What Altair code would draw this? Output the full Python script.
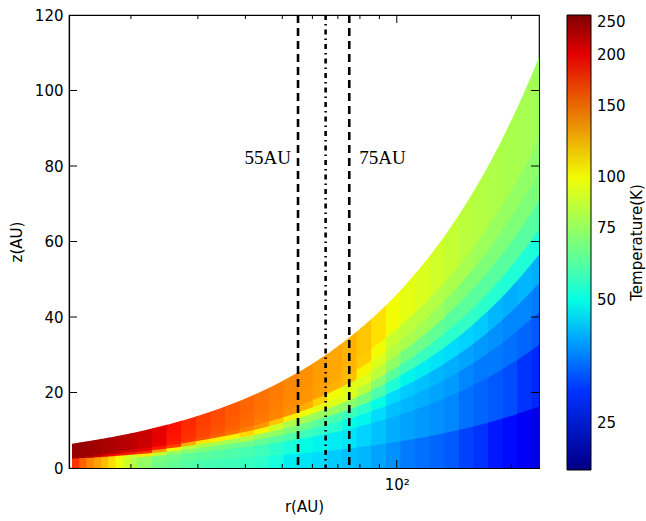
import altair as alt
import numpy as np
import pandas as pd

# ---------------- data ----------------
# radial cell edges (AU)
r_edges = [14.0, 14.63, 15.29, 15.98, 16.7, 17.45, 18.23, 19.05, 19.91, 20.8,
           22.72, 24.83, 27.12, 29.63, 32.37, 35.37, 38.64, 42.21, 46.12, 50.38,
           55.04, 60.13, 65.7, 71.77, 78.41, 85.67, 93.59, 102.25, 111.7, 122.0,
           133.3, 145.7, 159.1, 173.8, 189.9, 207.5, 226.7, 236.5]
# vertical layers as fraction of the disk surface height
layer_f = [0.0, 0.15, 0.3, 0.38, 0.45, 0.52, 0.58, 0.65, 0.72, 0.8, 1.0]
# disk surface: z_top / r
disk_aspect = 0.46
# temperature (K) of every cell, one list per radial column, bottom -> top
temp_by_column = [
    [175, 175, 175, 234, 238, 238, 238, 238, 238, 238],
    [152, 152, 152, 230, 236, 236, 236, 236, 236, 236],
    [138, 138, 138, 225, 234, 234, 234, 234, 234, 234],
    [128, 128, 128, 212, 229, 231, 231, 231, 231, 231],
    [118, 118, 120, 200, 224, 228, 228, 228, 228, 228],
    [108, 108, 110, 195, 218, 226, 226, 226, 226, 226],
    [99, 99, 102, 192, 212, 223, 223, 223, 223, 223],
    [90, 90, 95, 188, 206, 220, 220, 220, 220, 220],
    [82, 82, 90, 184, 202, 217, 217, 217, 217, 217],
    [74, 75, 105, 175, 198, 208, 210, 211, 212, 212],
    [67, 69, 88, 130, 185, 196, 198, 199, 200, 200],
    [64, 66, 76, 100, 168, 184, 187, 188, 189, 190],
    [61, 63, 72, 85, 125, 170, 175, 176, 177, 178],
    [59, 62, 70, 80, 106, 160, 165, 166, 167, 168],
    [58, 61, 68, 79, 104, 152, 158, 160, 161, 162],
    [57, 60, 66, 78, 102, 146, 152, 154, 155, 156],
    [56, 59, 66, 82, 110, 140, 147, 149, 150, 151],
    [54, 57, 64, 76, 102, 132, 142, 144, 145, 146],
    [51, 54, 62, 74, 90, 116, 138, 140, 141, 142],
    [48, 51, 60, 70, 80, 104, 133, 136, 137, 138],
    [47, 50, 57, 66, 78, 98, 124, 132, 133, 134],
    [46, 49, 55, 62, 76, 96, 112, 128, 129, 130],
    [44, 48, 53, 59, 75, 95, 100, 122, 125, 126],
    [43, 47, 50, 57, 73, 94, 95, 118, 121, 122],
    [42, 45, 49, 54, 68, 84, 94, 102, 114, 116],
    [40, 43, 46, 50, 60, 72, 85, 94, 100, 108],
    [38, 41, 43, 46, 52, 62, 74, 83, 88, 100],
    [36, 40, 42, 44, 49, 58, 68, 80, 85, 96],
    [35, 39, 41, 43, 48, 56, 66, 78, 84, 93],
    [34, 38, 40, 42, 47, 55, 64, 76, 82, 90],
    [33, 37, 39, 41, 46, 54, 62, 72, 80, 87],
    [31, 35, 37, 40, 45, 55, 63, 70, 79, 84],
    [30, 34, 36, 39, 44, 54, 62, 70, 77, 83],
    [28, 33, 36, 38, 42, 53, 62, 70, 76, 81],
    [27, 32, 35, 37, 41, 52, 62, 70, 75, 80],
    [25, 30, 34, 37, 42, 52, 62, 70, 74, 79],
    [24, 29, 33, 36, 41, 51, 61, 69, 73, 78],
]
marker_r = [55, 75]
marker_text = ["55AU", "75AU"]
center_r = [65]
x_minor_ticks = [20, 30, 40, 50, 60, 70, 80, 90, 200]
x_major_ticks = [100]
y_ticks = [0, 20, 40, 60, 80, 100, 120]
cbar_ticks = [25, 50, 75, 100, 150, 200, 250]
t_min, t_max = 19.2, 250.0

# ---------------- build table ----------------
# cells overlap their right / upper neighbour very slightly so that
# anti-aliasing does not leave hairline seams between them
n_col = len(r_edges) - 1
n_lay = len(layer_f) - 1
rows = []
for i in range(n_col):
    for j in range(n_lay):
        for k, e in enumerate((i, i + 1)):
            r = r_edges[e]
            if k == 1 and i < n_col - 1:
                r = r * 1.006
            top = disk_aspect * r
            z_hi = layer_f[j + 1] * top
            if j < n_lay - 1:
                z_hi += 0.35
            rows.append({"cell": f"{i:02d}_{j:02d}", "r": r,
                         "z": layer_f[j] * top, "z2": z_hi,
                         "T": temp_by_column[i][j]})
cells = pd.DataFrame(rows)

# jet colormap (matplotlib definition) on a log temperature scale
def jet(t):
    rr = np.interp(t, [0, 0.35, 0.66, 0.89, 1], [0, 0, 1, 1, 0.5])
    gg = np.interp(t, [0, 0.125, 0.375, 0.64, 0.91, 1], [0, 0, 1, 1, 0, 0])
    bb = np.interp(t, [0, 0.11, 0.34, 0.65, 1], [0.5, 1, 1, 0, 0])
    return "#%02x%02x%02x" % (int(round(rr * 255)), int(round(gg * 255)), int(round(bb * 255)))

ts = sorted(set(np.round(np.linspace(0, 1, 41), 4).tolist() +
                [0.11, 0.125, 0.34, 0.35, 0.375, 0.64, 0.65, 0.66, 0.89, 0.91]))
c_domain = [float(t_min * (t_max / t_min) ** t) for t in ts]
c_range = [jet(t) for t in ts]
cscale = alt.Scale(type="log", domain=c_domain, range=c_range, nice=False)

W, H = 470, 453
CB_X, CB_W, CB_LEN = 498, 24, 455
xscale = alt.Scale(type="log", domain=[13.75, 236.5], nice=False)
yscale = alt.Scale(domain=[0, 120], nice=False)

base_font = "DejaVu Sans"

disk = alt.Chart(cells).mark_area(clip=True, interpolate="linear").encode(
    x=alt.X("r:Q", scale=xscale,
            axis=alt.Axis(values=[100], labelExpr="'10²'", title="r(AU)",
                          labelPadding=9, titlePadding=7)),
    y=alt.Y("z:Q", scale=yscale, stack=None,
            axis=alt.Axis(values=y_ticks, title="z(AU)", labelPadding=6, titlePadding=10)),
    y2="z2:Q",
    detail="cell:N",
    order=alt.Order("cell:N"),
    color=alt.Color("T:Q", scale=cscale,
                    legend=alt.Legend(type="gradient", orient="none", legendX=CB_X, legendY=0,
                                      direction="vertical", gradientLength=CB_LEN,
                                      gradientThickness=CB_W, values=cbar_ticks,
                                      format="d", labelFontSize=15, labelFont=base_font,
                                      labelColor="black", labelOffset=6,
                                      labelBaseline="middle", labelOverlap=False,
                                      title=None, gradientStrokeColor="black",
                                      gradientStrokeWidth=1, padding=0)),
)

xt_minor = pd.DataFrame({"r": x_minor_ticks})
xt_major = pd.DataFrame({"r": x_major_ticks})
yt = pd.DataFrame({"z": y_ticks[1:-1]})

def xtick(df, length, bottom=True):
    if bottom:
        enc = dict(y=alt.value(H), y2=alt.value(H - length))
    else:
        enc = dict(y=alt.value(0), y2=alt.value(length))
    return alt.Chart(df).mark_rule(color="black", strokeWidth=1).encode(x="r:Q", **enc)

def ytick(length, left=True):
    if left:
        enc = dict(x=alt.value(0), x2=alt.value(length))
    else:
        enc = dict(x=alt.value(W - length), x2=alt.value(W))
    return alt.Chart(yt).mark_rule(color="black", strokeWidth=1).encode(y="z:Q", **enc)

ticks = [xtick(xt_minor, 4, True), xtick(xt_minor, 4, False),
         xtick(xt_major, 8, True), xtick(xt_major, 8, False),
         ytick(8, True), ytick(8, False)]

vlines = alt.Chart(pd.DataFrame({"r": marker_r})).mark_rule(
    color="black", strokeWidth=2.6, strokeDash=[8, 5]).encode(x="r:Q")
cline = alt.Chart(pd.DataFrame({"r": center_r})).mark_rule(
    color="black", strokeWidth=2.6, strokeDash=[5, 4, 1.5, 4]).encode(x="r:Q")

lab = pd.DataFrame({"r": marker_r, "z": [82, 82], "text": marker_text})
lab_left = alt.Chart(lab.iloc[[0]]).mark_text(
    font="Liberation Serif", fontSize=19, align="right", baseline="middle",
    dx=-7, color="black").encode(x="r:Q", y="z:Q", text="text:N")
lab_right = alt.Chart(lab.iloc[[1]]).mark_text(
    font="Liberation Serif", fontSize=19, align="left", baseline="middle",
    dx=10, color="black").encode(x="r:Q", y="z:Q", text="text:N")

cbar_title = alt.Chart(pd.DataFrame({"t": ["Temperature(K)"]})).mark_text(
    font=base_font, fontSize=15, angle=270, align="center", baseline="middle",
    color="black").encode(x=alt.value(568), y=alt.value(227.5), text="t:N")

main = alt.layer(disk, *ticks, vlines, cline, lab_left, lab_right, cbar_title)

# small tick marks on the inner right side of the colour bar
cb_ticks = alt.Chart(pd.DataFrame({"T": cbar_ticks[:-1]})).mark_rule(
    color="black", strokeWidth=1).encode(
    y=alt.Y("T:Q", scale=alt.Scale(type="log", domain=[t_min, t_max],
                                   range=[CB_LEN, 0], nice=False), axis=None),
    x=alt.value(CB_X + CB_W - 5), x2=alt.value(CB_X + CB_W),
)

chart = alt.layer(main, cb_ticks).resolve_scale(y="independent").properties(
    width=W, height=H,
    padding={"left": 69, "top": 15, "right": 107, "bottom": 53},
    autosize=alt.AutoSizeParams(type="none"),
    background="white",
).configure_view(stroke="black", strokeWidth=1.2).configure_axis(
    domainColor="black", domainWidth=1.2, labelColor="black", titleColor="black",
    labelFont=base_font, titleFont=base_font, labelFontSize=15, titleFontSize=15,
    titleFontWeight="normal", grid=False, ticks=False,
)

chart.save("out.html", embed_options={"renderer": "svg", "actions": False})
